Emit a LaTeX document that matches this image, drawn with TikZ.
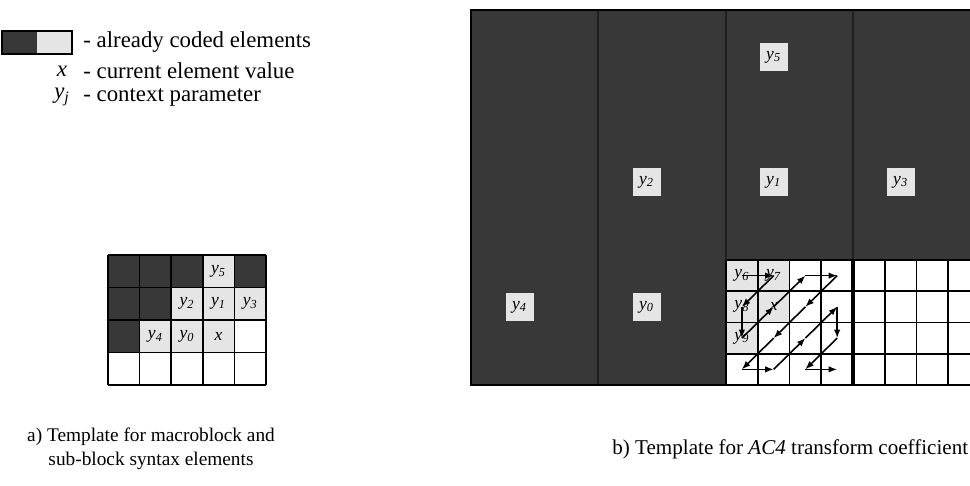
\documentclass[tikz,border=0pt]{standalone}
\usepackage{fontspec}
\setmainfont{Liberation Serif}
\usetikzlibrary{arrows.meta}
\newcommand*{\ylab}[1]{\textit{y}\textsubscript{\textit{#1}}}

\begin{document}
\begin{tikzpicture}[x=0.02cm,y=-0.02cm,>={Latex[length=1.7mm,width=1.3mm]},
      coded/.style={fill=black!78},
      known/.style={fill=black!10},
      gridline/.style={line width=1pt},
      lbl/.style={font=\fontsize{10}{10}\selectfont,inner sep=0pt},
      ctx/.style={known,minimum size=0.56cm,inner sep=0pt,font=\fontsize{10}{10}\selectfont},
      txt/.style={font=\fontsize{13}{15}\selectfont,anchor=west,inner sep=0pt},
      scan/.style={->,line width=0.9pt}]
  \useasboundingbox (0,0) rectangle (970,485);
  \clip (0,0) rectangle (970,485);

  % legend
  \fill[coded] (2,31) rectangle (37,54);
  \fill[known] (37,31) rectangle (72,54);
  \draw[line width=0.8pt] (2,31) rectangle (72,54);
  \node[txt] (coded) at (83,42) {- already coded elements};
  \node[txt] (cur) at (83,71) {- current element value};
  \node[txt] (par) at (83,97) {- context parameter};
  \node[font=\fontsize{13}{15}\selectfont] (xsym) at (62,71) {\textit{x}};
  \node[font=\fontsize{13}{15}\selectfont] (ysym) at (62,97) {\ylab{j}};

  % a) macroblock template, 5x4 cells
  \fill[coded] (108,255) rectangle (266,320);
  \fill[coded] (108,320) rectangle (139.6,352.5);
  \foreach \r/\c in {0/3,1/2,1/3,1/4,2/1,2/2,2/3}
    \fill[known] (108+\c*31.6,255+\r*32.5) rectangle ++(31.6,32.5);
  \foreach \i in {0,...,5}
    \draw[gridline] (108+\i*31.6,255) -- ++(0,130);
  \foreach \j in {0,...,4}
    \draw[gridline] (108,255+\j*32.5) -- ++(158,0);
  \foreach \r/\c/\t in {0/3/\ylab{5},1/2/\ylab{2},1/3/\ylab{1},1/4/\ylab{3},
                        2/1/\ylab{4},2/2/\ylab{0},2/3/\textit{x}}
    \node[lbl] (a-\r-\c) at (108+\c*31.6+15.8,255+\r*32.5+16.25) {\t};

  % b) AC4 template, blocks of 4x4 coefficients
  \fill[coded] (471,10) rectangle (970,385);
  \foreach \x in {598,726,853}
    \draw[line width=0.8pt,black!88] (\x,10) -- (\x,260);
  \draw[line width=0.8pt,black!88] (598,260) -- (598,385);
  \fill[white] (726,260) rectangle (970,385);
  \foreach \r/\c in {0/0,0/1,1/0,1/1,2/0}
    \fill[known] (726+\c*31.75,260+\r*31.25) rectangle ++(31.75,31.25);
  \foreach \i in {0,...,8}
    \draw[gridline] (726+\i*31.75,260) -- ++(0,125);
  \foreach \j in {0,...,4}
    \draw[gridline] (726,260+\j*31.25) -- ++(254,0);
  \draw[line width=1.8pt] (853,260) -- (853,385);
  \draw[line width=1.2pt] (471,10) rectangle (990,385);

  % neighbouring blocks
  \node[ctx] (y5) at (773.6,56.9) {\ylab{5}};
  \node[ctx] (y2) at (646.6,181.9) {\ylab{2}};
  \node[ctx] (y1) at (773.6,181.9) {\ylab{1}};
  \node[ctx] (y3) at (900.6,181.9) {\ylab{3}};
  \node[ctx] (y4) at (519.6,306.9) {\ylab{4}};
  \node[ctx] (y0) at (646.6,306.9) {\ylab{0}};

  % zig-zag scan of the current block
  \foreach \r in {0,...,3}
    \foreach \c in {0,...,3}
      \coordinate (s-\r-\c) at (726+\c*31.75+15.9,260+\r*31.25+15.6);
  \foreach \a/\b in {0-0/0-1,0-1/1-0,1-0/2-0,2-0/1-1,1-1/0-2,0-2/0-3,0-3/1-2,1-2/2-1,
                     2-1/3-0,3-0/3-1,3-1/2-2,2-2/1-3,1-3/2-3,2-3/3-2,3-2/3-3}
    \draw[scan] (s-\a) -- (s-\b);
  \foreach \p/\t in {0-0/\ylab{6},0-1/\ylab{7},1-0/\ylab{8},1-1/\textit{x},2-0/\ylab{9}}
    \node[lbl] (b-\p) at (s-\p) {\t};

  % captions
  \node[font=\fontsize{11}{13.5}\selectfont,align=center] (capa) at (151,449)
    {a) Template for macroblock and\\sub-block syntax elements};
  \node[font=\fontsize{12}{14}\selectfont,anchor=west,inner sep=0pt] (capb) at (612,449)
    {b) Template for \textit{AC4} transform coefficient};
\end{tikzpicture}
\end{document}
